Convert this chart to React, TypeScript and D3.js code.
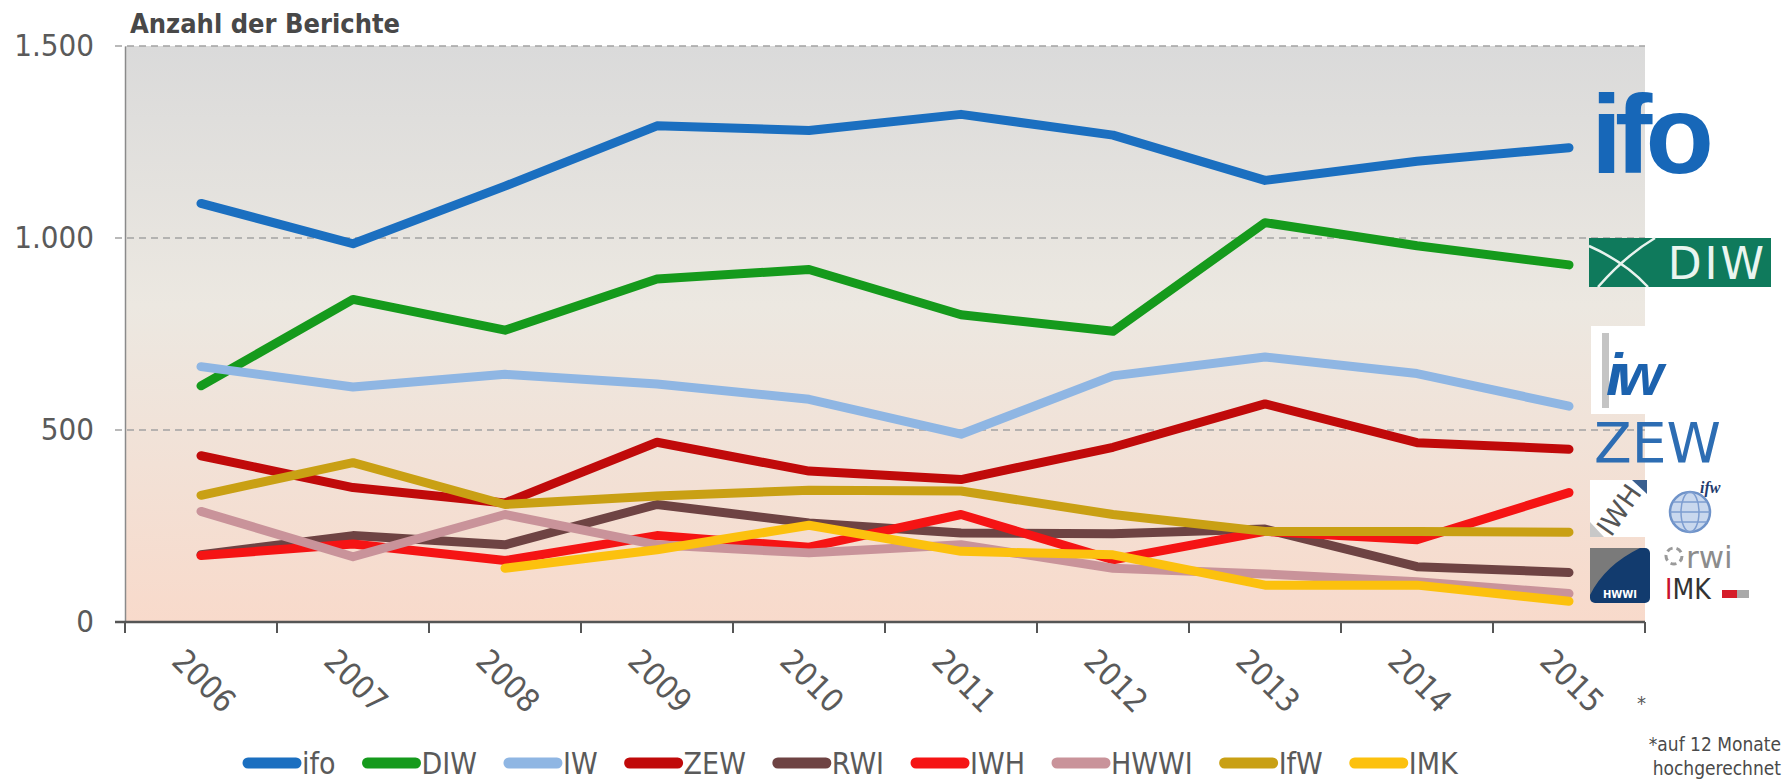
import React, { useEffect, useRef } from "react";
import * as d3 from "d3";

const years = ["2006", "2007", "2008", "2009", "2010", "2011", "2012", "2013", "2014", "2015"];

const ifo = [1090, 985, 1135, 1292, 1280, 1322, 1268, 1150, 1200, 1235];
const diw = [615, 840, 760, 893, 918, 800, 757, 1040, 980, 930];
const iw = [665, 612, 645, 620, 580, 489, 641, 690, 647, 562];
const zew = [433, 350, 310, 468, 393, 371, 455, 568, 467, 450];
const rwi = [175, 225, 201, 306, 258, 232, 230, 242, 144, 129];
const iwh = [173, 203, 160, 225, 195, 280, 162, 236, 214, 337];
const hwwi = [288, 170, 280, 201, 180, 201, 140, 125, 105, 74];
const ifw = [330, 415, 306, 328, 343, 341, 280, 236, 236, 234];
const imk = [null, null, 140, 188, 252, 184, 175, 96, 96, 54];

const seriesNames = ["ifo", "DIW", "IW", "ZEW", "RWI", "IWH", "HWWI", "IfW", "IMK"];
const seriesValues = [ifo, diw, iw, zew, rwi, iwh, hwwi, ifw, imk];
const seriesColors = ["#1b6fc0", "#159a1c", "#8fb6e3", "#c00a0a", "#6e4343", "#f51414", "#c9939a", "#c9a014", "#fcc10e"];

const yTicks = [0, 500, 1000, 1500];
const yTickLabels = ["0", "500", "1.000", "1.500"];

const sans = "'DejaVu Sans Condensed', 'DejaVu Sans', sans-serif";
const narrow = "'Liberation Sans Narrow', 'DejaVu Sans Condensed', 'Liberation Sans', sans-serif";

export default function App() {
  const ref = useRef<SVGSVGElement>(null);

  useEffect(() => {
    const width = 1789;
    const height = 781;
    const left = 125;
    const right = 1645;
    const top = 46;
    const bottom = 622;

    const svg = d3.select(ref.current);
    svg.selectAll("*").remove();
    svg.attr("width", width).attr("height", height);

    const x = d3.scaleBand<string>().domain(years).range([left, right]);
    const y = d3.scaleLinear().domain([0, 1500]).range([bottom, top]);
    const bw = x.bandwidth();

    // background of plot
    const defs = svg.append("defs");
    const grad = defs.append("linearGradient").attr("id", "bg")
      .attr("x1", 0).attr("y1", 0).attr("x2", 0).attr("y2", 1);
    grad.append("stop").attr("offset", "0%").attr("stop-color", "#dadada");
    grad.append("stop").attr("offset", "45%").attr("stop-color", "#ece8e1");
    grad.append("stop").attr("offset", "100%").attr("stop-color", "#f8dacb");

    svg.append("rect")
      .attr("x", left).attr("y", y(1500))
      .attr("width", right - left).attr("height", y(0) - y(1500))
      .attr("fill", "url(#bg)");

    // dashed gridlines
    svg.append("g").selectAll("line")
      .data(yTicks.filter(d => d > 0))
      .join("line")
      .attr("x1", left - 10).attr("x2", right)
      .attr("y1", d => y(d)).attr("y2", d => y(d))
      .attr("stroke", "#a3a3a3").attr("stroke-width", 1.6)
      .attr("stroke-dasharray", "7,5");

    // y axis
    const gy = svg.append("g")
      .attr("transform", `translate(${left},0)`)
      .call(d3.axisLeft(y).tickValues(yTicks)
        .tickFormat((d, i) => yTickLabels[i])
        .tickSize(0).tickPadding(31));
    gy.select(".domain").attr("stroke", "#8a8a8a").attr("stroke-width", 1.5);
    gy.selectAll("text")
      .attr("font-family", sans).attr("font-size", 31)
      .attr("fill", "#5a5a5a");

    // x axis
    svg.append("line")
      .attr("x1", left - 10).attr("x2", right)
      .attr("y1", y(0)).attr("y2", y(0))
      .attr("stroke", "#555").attr("stroke-width", 2.5);
    const tickPos = years.map(d => x(d) as number).concat([right]);
    svg.append("g").selectAll("line")
      .data(tickPos)
      .join("line")
      .attr("x1", d => d).attr("x2", d => d)
      .attr("y1", y(0)).attr("y2", y(0) + 11)
      .attr("stroke", "#555").attr("stroke-width", 2);
    svg.append("g").selectAll("text")
      .data(years)
      .join("text")
      .attr("transform", d => `translate(${(x(d) as number) + bw / 2 + 3},681) rotate(45)`)
      .attr("text-anchor", "middle")
      .attr("dominant-baseline", "central")
      .attr("font-family", sans).attr("font-size", 32)
      .attr("fill", "#5a5a5a")
      .text(d => d);
    svg.append("text")
      .attr("x", (x("2015") as number) + bw / 2 + 68).attr("y", 710)
      .attr("font-family", sans).attr("font-size", 20).attr("fill", "#5a5a5a")
      .text("*");

    // title
    svg.append("text")
      .attr("x", 130).attr("y", 33)
      .attr("font-family", sans).attr("font-size", 27).attr("font-weight", "bold")
      .attr("fill", "#484848")
      .text("Anzahl der Berichte");

    // lines
    const line = d3.line<number | null>()
      .defined(d => d != null)
      .x((d, i) => (x(years[i]) as number) + bw / 2)
      .y(d => y(d as number));

    svg.append("g").selectAll("path")
      .data(seriesValues)
      .join("path")
      .attr("d", d => line(d))
      .attr("fill", "none")
      .attr("stroke", (d, i) => seriesColors[i])
      .attr("stroke-width", 9)
      .attr("stroke-linecap", "round")
      .attr("stroke-linejoin", "round");

    // legend
    const lg = svg.append("g");
    let lx = 243;
    const ly = 763;
    seriesNames.forEach((name, i) => {
      lg.append("line")
        .attr("x1", lx + 5).attr("x2", lx + 53)
        .attr("y1", ly).attr("y2", ly)
        .attr("stroke", seriesColors[i]).attr("stroke-width", 11)
        .attr("stroke-linecap", "round");
      const t = lg.append("text")
        .attr("x", lx + 59).attr("y", ly + 11)
        .attr("font-family", narrow).attr("font-size", 30)
        .attr("fill", "#5a5a5a")
        .text(name);
      const w = (t.node() as SVGTextElement).getComputedTextLength();
      lx = lx + 59 + w + 27;
    });

    // footnote
    svg.append("g").selectAll("text")
      .data(["*auf 12 Monate", "hochgerechnet"])
      .join("text")
      .attr("x", 1781).attr("y", (d, i) => 751 + i * 24)
      .attr("text-anchor", "end")
      .attr("font-family", narrow).attr("font-size", 19)
      .attr("fill", "#4a4a4a")
      .text(d => d);

    // institute logos
    const logos = svg.append("g");

    // ifo
    logos.append("text")
      .attr("x", 1591).attr("y", 173)
      .attr("font-family", "'Liberation Sans', Arial, sans-serif")
      .attr("font-weight", "bold").attr("font-size", 112)
      .attr("letter-spacing", -7)
      .attr("fill", "#1767b8")
      .text("ifo");

    // DIW
    logos.append("rect")
      .attr("x", 1589).attr("y", 238).attr("width", 182).attr("height", 49)
      .attr("fill", "#0f7a5c");
    logos.append("path")
      .attr("d", "M1589,246 Q1625,262 1648,287 M1598,287 Q1625,256 1655,238")
      .attr("fill", "none").attr("stroke", "#e8f3ee").attr("stroke-width", 2.5);
    logos.append("text")
      .attr("x", 1767).attr("y", 279).attr("text-anchor", "end")
      .attr("font-family", "'DejaVu Sans', sans-serif").attr("font-size", 44)
      .attr("letter-spacing", 3)
      .attr("fill", "#eaf5f0")
      .text("DIW");

    // IW
    logos.append("rect")
      .attr("x", 1591).attr("y", 326).attr("width", 54).attr("height", 88)
      .attr("fill", "#ffffff");
    logos.append("rect")
      .attr("x", 1602).attr("y", 333).attr("width", 7).attr("height", 75)
      .attr("fill", "#c4c4c4");
    logos.append("text")
      .attr("x", 1606).attr("y", 395)
      .attr("font-family", "'Liberation Sans', Arial, sans-serif")
      .attr("font-weight", "bold").attr("font-style", "italic").attr("font-size", 60)
      .attr("letter-spacing", -6)
      .attr("fill", "#1c62ae")
      .text("iw");

    // ZEW
    logos.append("text")
      .attr("x", 1594).attr("y", 462)
      .attr("font-family", "'DejaVu Sans', sans-serif").attr("font-size", 55)
      .attr("fill", "#2d6db3")
      .text("ZEW");

    // IWH
    logos.append("rect")
      .attr("x", 1590).attr("y", 480).attr("width", 57).attr("height", 57)
      .attr("fill", "#ffffff");
    logos.append("path")
      .attr("d", "M1632,480 L1647,480 L1647,494 Z")
      .attr("fill", "#3a5f8f");
    logos.append("path")
      .attr("d", "M1590,537 L1590,522 L1604,537 Z")
      .attr("fill", "#c8c8c8");
    logos.append("text")
      .attr("transform", "translate(1619,510) rotate(-55)")
      .attr("text-anchor", "middle").attr("dominant-baseline", "central")
      .attr("font-family", "'DejaVu Sans', sans-serif").attr("font-size", 27)
      .attr("fill", "#555")
      .text("IWH");

    // IfW globe
    logos.append("circle")
      .attr("cx", 1690).attr("cy", 512).attr("r", 20)
      .attr("fill", "#c9d8ee").attr("stroke", "#6f93c9").attr("stroke-width", 2.5);
    logos.append("ellipse")
      .attr("cx", 1690).attr("cy", 512).attr("rx", 9).attr("ry", 20)
      .attr("fill", "none").attr("stroke", "#7d9dd0").attr("stroke-width", 1.5);
    logos.append("path")
      .attr("d", "M1670,512 L1710,512 M1673,502 L1707,502 M1673,522 L1707,522")
      .attr("stroke", "#7d9dd0").attr("stroke-width", 1.5);
    logos.append("text")
      .attr("x", 1700).attr("y", 493)
      .attr("font-family", "'Liberation Serif', serif")
      .attr("font-style", "italic").attr("font-weight", "bold").attr("font-size", 16)
      .attr("fill", "#1f3b6e")
      .text("ifw");

    // HWWI
    logos.append("rect")
      .attr("x", 1590).attr("y", 548).attr("width", 60).attr("height", 55).attr("rx", 5)
      .attr("fill", "#123b6e");
    logos.append("path")
      .attr("d", "M1590,548 L1640,548 Q1605,565 1590,595 Z")
      .attr("fill", "#7a7a7a");
    logos.append("text")
      .attr("x", 1620).attr("y", 598).attr("text-anchor", "middle")
      .attr("font-family", "'DejaVu Sans', sans-serif").attr("font-weight", "bold")
      .attr("font-size", 10)
      .attr("fill", "#ffffff")
      .text("HWWI");

    // RWI
    logos.append("circle")
      .attr("cx", 1674).attr("cy", 556).attr("r", 8)
      .attr("fill", "none").attr("stroke", "#9a9a9a").attr("stroke-width", 3)
      .attr("stroke-dasharray", "6,4");
    logos.append("text")
      .attr("x", 1686).attr("y", 568)
      .attr("font-family", "'DejaVu Sans', sans-serif").attr("font-size", 31)
      .attr("fill", "#8c8c8c")
      .text("rwi");

    // IMK
    const imkText = logos.append("text")
      .attr("x", 1665).attr("y", 599)
      .attr("font-family", "'DejaVu Sans Condensed', 'DejaVu Sans', sans-serif")
      .attr("font-size", 28);
    imkText.append("tspan").attr("fill", "#c8102e").text("I");
    imkText.append("tspan").attr("fill", "#333").text("MK");
    logos.append("rect")
      .attr("x", 1722).attr("y", 590).attr("width", 15).attr("height", 8)
      .attr("fill", "#d51d2a");
    logos.append("rect")
      .attr("x", 1737).attr("y", 590).attr("width", 12).attr("height", 8)
      .attr("fill", "#a9a9a9");
  }, []);

  return (
    <svg
      ref={ref}
      style={{ position: "fixed", left: 0, top: 0, background: "#ffffff" }}
    />
  );
}
